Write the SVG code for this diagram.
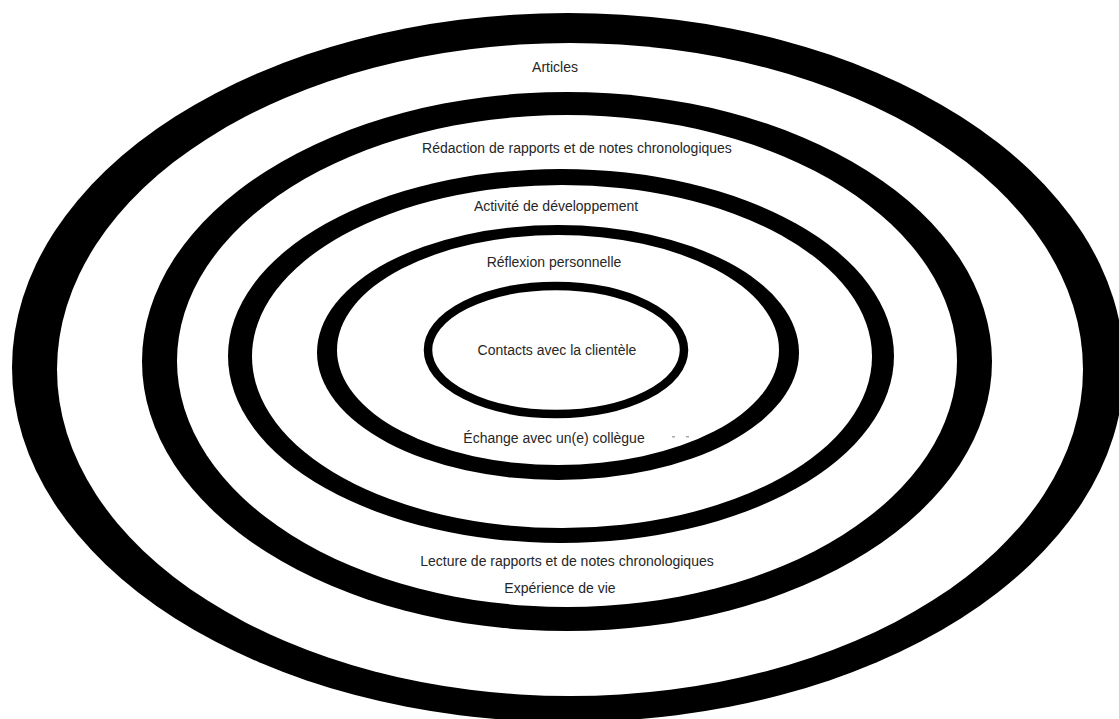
<svg xmlns="http://www.w3.org/2000/svg" width="1119" height="719" viewBox="0 0 1119 719">
<style>
.ring{fill:#000}
.hole{fill:#fff}
.lbl{font-family:"Liberation Sans",Arial,sans-serif;font-size:14px;fill:#262626;text-anchor:middle}
</style>
<rect width="1119" height="719" fill="#fff"/>
<g id="ring-articles">
<ellipse class="ring" cx="568" cy="367.5" rx="556" ry="354.5"/>
<ellipse class="hole" cx="570" cy="369.5" rx="513" ry="326.5"/>
</g>
<g id="ring-redaction">
<ellipse class="ring" cx="567" cy="361.5" rx="425" ry="269.5"/>
<ellipse class="hole" cx="567" cy="361" rx="390" ry="246"/>
</g>
<g id="ring-activite">
<ellipse class="ring" cx="561" cy="356" rx="333" ry="187"/>
<ellipse class="hole" cx="562" cy="356.5" rx="310" ry="171.5"/>
</g>
<g id="ring-reflexion">
<ellipse class="ring" cx="558" cy="352.5" rx="241" ry="127.5"/>
<ellipse class="hole" cx="558" cy="350" rx="221" ry="115"/>
</g>
<g id="ring-contacts">
<ellipse cx="556" cy="350" rx="128" ry="64" fill="none" stroke="#000" stroke-width="8.5"/>
</g>
<g id="labels">
<text class="lbl" x="555" y="72">Articles</text>
<text class="lbl" x="577" y="153">Rédaction de rapports et de notes chronologiques</text>
<text class="lbl" x="556" y="211">Activité de développement</text>
<text class="lbl" x="554" y="267">Réflexion personnelle</text>
<text class="lbl" x="557" y="355">Contacts avec la clientèle</text>
<text class="lbl" x="554" y="443">Échange avec un(e) collègue</text>
<text class="lbl" x="567" y="566">Lecture de rapports et de notes chronologiques</text>
<text class="lbl" x="560" y="593">Expérience de vie</text>
</g>
<g id="marks" fill="#aaa">
<rect x="672" y="436" width="3" height="1.5"/>
<rect x="686" y="436" width="3" height="1.5"/>
</g>
</svg>
